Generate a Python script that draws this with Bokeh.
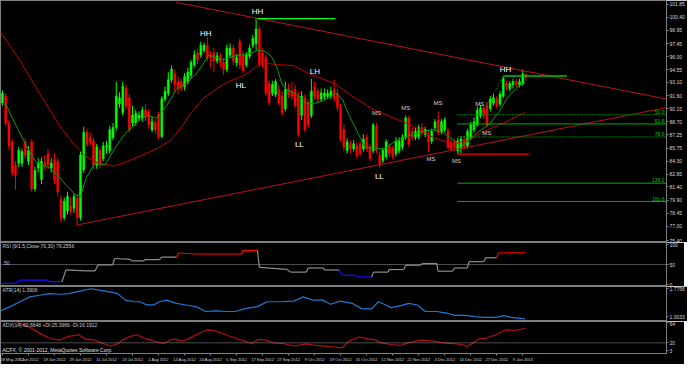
from bokeh.plotting import figure
from bokeh.models import ColumnDataSource, FixedTicker, Span, Label, Range1d, PrintfTickFormatter
from bokeh.layouts import column
from bokeh.embed import file_html
from bokeh.resources import INLINE
from bokeh.core.properties import value

FONT = "Liberation Sans"

# ---------------- data ----------------
bar_open = [
    90.82, 91.57, 88.57, 86.43, 83.86, 84.07, 84.07, 86.43, 84.29, 86.43,
    81.18, 83.54, 82.25, 84.07, 85.14, 83.54, 84.39, 84.29, 80.00, 77.97,
    78.72, 79.25, 79.04, 80.11, 77.97, 83.32, 87.50, 86.96, 86.54, 83.86,
    85.47, 84.61, 85.89, 85.47, 86.96, 88.04, 90.71, 89.75, 92.43, 91.36,
    88.57, 88.57, 89.11, 89.11, 89.96, 89.75, 87.82, 88.57, 89.43, 87.07,
    91.25, 91.89, 93.39, 94.03, 93.18, 93.18, 92.64, 93.18, 93.93, 95.10,
    96.39, 96.18, 96.71, 97.25, 96.18, 96.39, 95.53, 96.07, 95.32, 94.57,
    96.18, 96.93, 95.32, 97.67, 96.18, 95.10, 96.07, 97.25, 97.46, 99.07,
    96.39, 95.85, 92.96, 91.89, 91.78, 92.32, 91.57, 90.18, 92.32, 92.11,
    92.32, 91.57, 89.43, 91.36, 90.82, 89.43, 92.64, 92.11, 91.25, 91.57,
    91.57, 91.57, 92.32, 91.89, 90.29, 87.82, 85.47, 86.21, 85.68, 86.00,
    86.21, 85.68, 86.96, 85.89, 85.47, 88.14, 84.93, 84.39, 84.82, 85.89,
    85.68, 85.14, 85.47, 85.89, 86.96, 89.11, 87.61, 86.96, 87.07, 88.04,
    87.29, 87.29, 86.54, 88.04, 88.89, 87.61, 87.82, 87.61, 86.43, 86.43,
    85.47, 85.68, 86.75, 86.00, 86.96, 87.82, 88.36, 89.43, 90.18, 90.50,
    90.18, 90.82, 91.25, 90.71, 91.57, 92.96, 92.43, 92.86, 93.18, 92.86,
    92.96, 93.93]
bar_high = [
    92.21, 91.89, 88.89, 86.75, 84.29, 85.89, 85.68, 86.86, 86.00, 86.75,
    83.64, 84.61, 84.72, 84.93, 85.68, 84.61, 85.14, 84.61, 80.43, 80.22,
    80.86, 80.22, 80.65, 80.54, 85.36, 88.14, 87.93, 87.50, 86.86, 86.21,
    85.89, 86.43, 86.54, 88.25, 88.57, 93.18, 92.00, 93.18, 92.86, 91.78,
    90.50, 90.07, 89.86, 90.39, 90.71, 90.18, 89.21, 89.00, 89.86, 91.57,
    92.64, 94.25, 95.00, 94.57, 93.71, 93.50, 94.14, 94.78, 95.64, 96.71,
    96.93, 97.67, 97.57, 98.21, 96.61, 96.93, 96.50, 96.39, 95.85, 97.35,
    97.46, 97.35, 96.28, 98.00, 96.61, 96.50, 97.35, 98.43, 100.35, 99.50,
    96.93, 96.18, 93.29, 93.29, 93.50, 92.86, 92.11, 93.18, 92.96, 93.18,
    92.86, 92.00, 92.11, 91.78, 91.25, 93.50, 93.18, 92.43, 92.43, 92.43,
    92.32, 92.64, 93.39, 92.32, 90.71, 88.36, 86.86, 86.64, 86.64, 86.43,
    86.54, 87.29, 87.29, 86.21, 88.57, 88.57, 85.36, 85.79, 86.75, 86.21,
    86.00, 86.96, 86.96, 87.29, 89.43, 89.43, 88.04, 88.04, 88.36, 88.57,
    88.14, 87.71, 87.93, 89.00, 89.86, 89.00, 89.21, 88.04, 86.75, 86.75,
    86.86, 87.07, 87.07, 87.93, 88.68, 89.21, 90.39, 90.61, 90.50, 90.93,
    91.57, 91.78, 91.57, 92.11, 93.82, 93.29, 93.29, 93.50, 93.50, 93.50,
    94.57, 94.14]
bar_low = [
    90.50, 88.25, 85.57, 82.57, 81.07, 83.64, 83.64, 84.50, 83.86, 80.86,
    80.86, 83.00, 81.72, 83.22, 83.43, 83.00, 81.72, 80.32, 77.43, 77.65,
    78.29, 78.29, 78.50, 77.22, 77.65, 83.00, 85.89, 86.00, 83.43, 83.43,
    83.54, 84.29, 85.14, 85.14, 86.64, 87.71, 90.29, 89.43, 90.07, 87.50,
    88.14, 88.25, 88.79, 88.68, 88.79, 87.93, 87.50, 87.29, 86.75, 86.86,
    90.93, 91.57, 93.07, 92.00, 91.78, 92.11, 92.21, 92.86, 93.50, 94.78,
    95.21, 95.85, 96.39, 95.43, 94.78, 94.25, 95.21, 94.78, 93.93, 94.25,
    95.85, 95.00, 94.89, 94.57, 94.14, 94.78, 95.75, 96.93, 96.71, 94.78,
    94.78, 91.57, 90.50, 91.57, 91.46, 90.50, 89.43, 89.86, 91.36, 91.14,
    90.18, 86.96, 88.89, 87.50, 88.04, 89.11, 91.14, 90.82, 90.93, 91.14,
    91.25, 91.25, 90.93, 89.96, 86.43, 85.36, 85.14, 85.14, 85.36, 84.50,
    84.82, 85.36, 85.36, 84.29, 85.14, 85.14, 83.54, 84.07, 84.50, 84.72,
    84.50, 84.82, 85.14, 85.57, 86.64, 85.89, 86.64, 86.64, 86.75, 87.07,
    86.96, 85.36, 86.21, 87.71, 87.18, 87.29, 87.50, 85.57, 85.36, 85.47,
    85.14, 85.14, 85.57, 85.68, 86.64, 87.50, 88.14, 89.11, 89.00, 88.14,
    89.86, 90.50, 90.18, 90.39, 91.36, 92.21, 92.11, 92.43, 92.54, 92.54,
    92.75, 93.29]
bar_close = [
    91.89, 88.57, 86.00, 83.00, 82.79, 85.47, 85.36, 84.93, 85.47, 81.18,
    83.22, 84.07, 84.29, 83.75, 83.86, 84.07, 82.25, 80.86, 77.86, 79.79,
    80.32, 78.72, 80.32, 77.97, 84.93, 87.50, 86.21, 86.43, 83.86, 85.89,
    83.86, 86.00, 86.00, 87.82, 88.04, 91.57, 91.36, 92.64, 90.50, 87.82,
    89.43, 89.64, 89.43, 89.96, 89.21, 88.36, 88.68, 87.82, 87.07, 91.25,
    92.11, 93.39, 94.57, 92.96, 92.43, 92.43, 93.71, 94.25, 95.32, 96.18,
    95.64, 97.25, 97.25, 95.85, 95.85, 95.53, 96.07, 95.32, 94.57, 96.93,
    96.93, 95.53, 95.85, 95.10, 94.46, 96.18, 96.93, 98.00, 99.07, 95.10,
    95.10, 91.89, 90.82, 92.86, 93.18, 90.82, 89.75, 92.32, 91.78, 91.57,
    90.50, 87.29, 91.57, 87.82, 88.36, 92.11, 91.57, 91.25, 91.89, 91.89,
    91.89, 92.11, 91.36, 90.29, 86.75, 85.89, 86.43, 85.68, 86.21, 84.93,
    85.14, 86.75, 85.68, 84.61, 88.36, 85.47, 83.86, 85.47, 86.43, 85.14,
    84.82, 86.54, 86.54, 86.96, 89.11, 86.21, 86.96, 87.61, 88.04, 87.50,
    87.82, 86.43, 87.61, 88.68, 87.50, 88.68, 88.89, 85.89, 85.68, 85.89,
    86.54, 86.75, 85.89, 87.61, 88.36, 88.68, 89.96, 90.18, 89.43, 88.36,
    91.25, 91.36, 90.50, 91.78, 93.50, 92.64, 92.96, 93.18, 92.86, 93.18,
    94.03, 93.70]

# moving averages (bar index, price)
fast_ma_x = [0.9, 3.0, 7.5, 10.5, 14.4, 16.8, 19.5, 22.5, 24.0, 25.8, 28.5, 31.5, 34.5, 37.5,
             41.4, 44.4, 47.4, 50.5, 53.5, 56.5, 59.5, 61.6, 63.4, 67.6, 71.5, 76.6, 78.4, 80.5,
             82.6, 84.4, 85.9, 87.4, 90.4, 93.4, 95.5, 98.5, 102.4, 104.5, 106.6, 111.4, 114.4,
             117.4, 120.4, 123.4, 126.4, 129.4, 132.4, 135.4, 138.4, 141.1, 146.5, 149.5, 152.6,
             155.6, 158.6, 160.7]
fast_ma_y = [90.82, 89.11, 85.89, 84.07, 83.54, 82.79, 81.61, 80.54, 80.32, 82.47, 84.07, 83.86,
             85.68, 87.29, 88.68, 89.43, 89.11, 90.50, 92.32, 92.96, 94.03, 95.10, 96.18, 95.64,
             96.07, 96.39, 96.71, 96.61, 96.07, 94.78, 92.96, 92.32, 91.78, 90.82, 90.71, 91.04,
             91.89, 91.25, 89.43, 85.89, 85.68, 85.68, 86.43, 86.96, 87.29, 87.61, 87.82, 87.50,
             86.75, 85.89, 87.61, 88.36, 89.75, 91.57, 92.64, 93.07]
slow_ma_x = [-0.6, 5.4, 11.4, 17.4, 21.9, 25.5, 29.4, 34.5, 39.3, 47.4, 51.4, 55.6, 57.4, 61.6,
             65.5, 69.4, 74.5, 79.6, 84.4, 89.5, 94.6, 102.4, 107.5, 113.5, 120.4, 125.5, 132.4,
             138.4, 143.5, 147.4, 154.1, 160.7]
slow_ma_y = [98.75, 95.53, 91.89, 88.36, 86.21, 84.82, 84.07, 83.75, 84.39, 85.68, 86.54, 88.36,
             89.43, 91.25, 92.32, 93.18, 93.93, 95.32, 95.10, 95.00, 94.03, 92.96, 91.57, 90.18,
             89.11, 88.36, 86.96, 86.21, 86.64, 87.50, 88.57, 89.75]

# trend lines (bar index, price)
upper_trend = ([53.5, 204.2], [102.07, 91.25])
lower_trend = ([22.5, 204.2], [77.11, 90.29])
hh_level = ([78.4, 102.4], [100.25, 100.25])
top_level = ([154.1, 173.6], [93.82, 93.82])
low_level = ([139.9, 161.9], [85.07, 85.07])

# fibonacci tool
fib_start = 139.9
fib_low_pt = (140.2, 85.14)
fib_high_pt = (154.1, 93.82)
fib_ratios = [50.0, 61.8, 78.6, 138.2, 161.8]
fib_dash = ["dotted", "solid", "dotted", "solid", "solid"]

# swing labels
wave_text = ["HH", "HH", "HL", "LH", "LL", "LL", "HH"]
wave_x = [62.5, 78.4, 73.3, 96.1, 91.3, 115.9, 154.7]
wave_y = [98.53, 101.10, 92.75, 94.35, 86.21, 82.57, 94.57]
ms_x = [115.0, 124.0, 133.9, 131.8, 139.6, 146.8, 148.9]
ms_y = [89.64, 90.29, 90.82, 84.50, 84.29, 90.71, 87.39]

price_ticks = [101.85, 100.40, 98.95, 97.45, 96.00, 94.55, 93.10, 91.60, 90.15, 88.70,
               87.25, 85.75, 84.30, 82.85, 81.40, 79.90, 78.45, 77.00, 75.40]

# RSI (bar index, value)
rsi_x = [-0.6, 3.9, 5.4, 13.8, 14.4, 18.3, 19.5, 25.8, 28.5, 29.4, 33.9, 34.5, 39.3, 39.9, 43.5,
         43.8, 48.3, 48.9, 53.5, 54.1, 59.5, 73.6, 73.9, 78.4, 79.0, 87.4, 88.6, 93.4, 94.0, 98.5,
         99.1, 103.6, 104.5, 108.4, 109.0, 113.5, 114.1, 118.6, 118.9, 123.4, 124.0, 128.5,
         129.1, 133.6, 133.9, 138.4, 139.0, 142.9, 143.5, 148.0, 148.6, 151.9, 152.5, 160.9]
rsi_y = [3.1, 3.1, 11.2, 11.2, 7.1, 7.1, 36.4, 34.0, 34.0, 49.3, 49.3, 65.0, 62.6, 58.8, 58.8,
         61.9, 61.9, 68.3, 68.3, 78.6, 76.2, 76.2, 85.0, 85.0, 42.9, 38.1, 31.0, 31.0, 41.2, 41.2,
         36.4, 36.4, 23.1, 23.1, 19.0, 19.0, 31.0, 31.0, 37.4, 37.4, 48.3, 48.3, 52.4, 52.4, 33.3,
         33.3, 41.2, 41.2, 57.1, 57.1, 66.7, 66.7, 78.6, 79.3]

# ATR (bar index, value)
atr_x = [-0.6, 2.4, 5.4, 8.4, 11.4, 14.4, 17.4, 20.4, 23.4, 27.3, 30.3, 33.3, 35.4, 37.8, 40.5,
         42.3, 44.4, 46.5, 48.3, 50.5, 53.5, 56.5, 59.5, 62.5, 65.5, 69.4, 71.5, 75.4, 78.4,
         81.4, 85.6, 89.5, 92.5, 95.5, 98.5, 100.9, 103.9, 107.5, 110.5, 113.5, 115.6, 117.4,
         119.5, 122.5, 124.9, 127.6, 130.0, 133.6, 136.6, 139.0, 142.6, 145.6, 148.6, 151.7,
         154.1, 156.5, 160.7]
atr_y = [1.163, 1.278, 1.411, 1.544, 1.589, 1.634, 1.616, 1.634, 1.696, 1.768, 1.722, 1.677,
         1.634, 1.456, 1.411, 1.411, 1.323, 1.323, 1.411, 1.456, 1.368, 1.323, 1.278, 1.144,
         1.163, 1.144, 1.144, 1.235, 1.278, 1.411, 1.411, 1.429, 1.544, 1.456, 1.456, 1.342,
         1.429, 1.368, 1.216, 1.216, 1.411, 1.342, 1.251, 1.304, 1.368, 1.323, 1.144, 1.144,
         1.102, 1.038, 1.038, 0.995, 0.985, 0.985, 1.030, 0.985, 0.942]

# ADX (bar index, value)
adx_x = [4.5, 8.4, 11.4, 14.4, 17.4, 20.4, 23.4, 25.5, 28.5, 30.3, 33.3, 35.4, 37.5, 39.3, 41.4,
         43.5, 46.5, 49.5, 52.6, 55.6, 58.6, 61.6, 63.4, 65.5, 68.5, 71.5, 74.5, 76.6, 78.4,
         80.5, 83.5, 86.5, 89.5, 93.4, 96.4, 99.4, 103.6, 104.5, 106.6, 109.6, 112.6, 114.4,
         116.5, 119.5, 122.5, 124.6, 128.5, 132.4, 135.4, 138.4, 141.4, 142.9, 146.5, 148.6,
         151.7, 154.7, 157.7, 160.7]
adx_y = [64.0, 53.5, 41.0, 30.5, 25.7, 34.0, 37.4, 28.4, 25.7, 20.0, 13.1, 17.9, 28.4, 34.0, 37.4,
         30.5, 23.6, 18.5, 28.4, 23.6, 34.0, 44.5, 47.9, 45.8, 37.4, 30.5, 23.6, 18.5, 26.9,
         26.9, 20.0, 18.5, 13.1, 17.9, 14.3, 13.1, 9.5, 9.5, 23.6, 32.6, 28.4, 26.9, 20.0, 16.4,
         14.3, 20.0, 25.7, 23.6, 20.0, 18.5, 16.4, 11.6, 28.4, 29.8, 37.4, 47.9, 46.6, 51.4]

date_idx = list(range(0, 161, 8))
date_labels = ["28 May 2012", "7 Jun 2012", "19 Jun 2012", "29 Jun 2012", "11 Jul 2012",
               "23 Jul 2012", "2 Aug 2012", "14 Aug 2012", "24 Aug 2012", "5 Sep 2012",
               "17 Sep 2012", "27 Sep 2012", "9 Oct 2012", "19 Oct 2012", "31 Oct 2012",
               "12 Nov 2012", "22 Nov 2012", "4 Dec 2012", "14 Dec 2012", "27 Dec 2012",
               "9 Jan 2013"]

# ---------------- styling helpers ----------------
FW = 666
BORDER = "#7f7f7f"
AXTXT = "#d8d8d8"
xr = Range1d(-0.6, 204.2)


def make_fig(y0, y1, fh, bottom=False):
    f = figure(frame_width=FW, frame_height=fh, x_range=xr, y_range=Range1d(y0, y1),
               output_backend="svg", toolbar_location=None, y_axis_location="right",
               x_axis_location="below" if bottom else None,
               min_border_left=0, min_border_right=18, min_border_top=0,
               min_border_bottom=11 if bottom else 0,
               background_fill_color="black", border_fill_color="black",
               outline_line_color=BORDER, outline_line_width=1)
    f.grid.visible = False
    for ax in f.yaxis:
        ax.major_label_text_font_size = "5px"
        ax.major_label_text_font = FONT
        ax.major_label_text_color = AXTXT
        ax.major_label_standoff = 1
        ax.major_tick_out = 2
        ax.major_tick_in = 0
        ax.minor_tick_out = 0
        ax.minor_tick_in = 0
        ax.axis_line_color = BORDER
        ax.major_tick_line_color = BORDER
    return f


def header(f, x, y, text, color="#c8c8c8", size="5px"):
    f.add_layout(Label(x=x, y=y, text=text, text_color=color, text_font_size=size,
                       text_font=FONT, text_baseline="top", text_align="left"))


# ---------------- main price panel ----------------
pm = make_fig(75.18, 102.28, 242)
pm.yaxis[0].ticker = FixedTicker(ticks=price_ticks)
pm.yaxis[0].formatter = PrintfTickFormatter(format="%.2f")

idx = list(range(len(bar_close)))
col = ["#00ff00" if c >= o else "#ff0000" for o, c in zip(bar_open, bar_close)]
src = ColumnDataSource(dict(
    x=idx, o=bar_open, h=bar_high, l=bar_low, c=bar_close,
    top=[max(o, c) + 0.02 for o, c in zip(bar_open, bar_close)],
    bot=[min(o, c) - 0.02 for o, c in zip(bar_open, bar_close)],
    col=col))
pm.segment(x0="x", y0="h", x1="x", y1="l", color="col", line_width=1, source=src)
pm.vbar(x="x", top="top", bottom="bot", width=0.6, fill_color="col", line_color="col",
        line_width=0.5, source=src)

pm.line(slow_ma_x, slow_ma_y, line_color="#c00000", line_width=1)
pm.line(fast_ma_x, fast_ma_y, line_color="#00a000", line_width=1)

pm.line(*upper_trend, line_color="#b81418", line_width=1)
pm.line(*lower_trend, line_color="#b81418", line_width=1)
pm.line(*hh_level, line_color="#00ff00", line_width=1.2)
pm.line(*top_level, line_color="#00c000", line_width=1.5)
pm.line(*low_level, line_color="#ff0000", line_width=1.2)

fib_range = fib_high_pt[1] - fib_low_pt[1]
pm.line([fib_low_pt[0], fib_high_pt[0]], [fib_low_pt[1], fib_high_pt[1]],
        line_color="#00c000", line_width=1, line_dash="1 2")
for r, d in zip(fib_ratios, fib_dash):
    lv = fib_high_pt[1] - fib_range * r / 100.0
    pm.line([fib_start, 204.2], [lv, lv], line_color="#00b000" if d == "solid" else "#009000",
            line_width=1, line_dash="solid" if d == "solid" else "2 1")
    pm.text(x=[203.6], y=[lv + 0.08], text=["%.1f" % r], text_color="#00c000",
            text_font=value(FONT), text_font_size="5px", text_align="right",
            text_baseline="bottom")

pm.text(x=wave_x, y=wave_y, text=wave_text, text_color="#ffffff", text_font=value(FONT),
        text_font_size="8px", text_align="center", text_baseline="middle")
pm.text(x=ms_x, y=ms_y, text=["MS"] * len(ms_x), text_color="#d0d0d0", text_font=value(FONT),
        text_font_size="6px", text_align="center", text_baseline="middle")

pm.add_layout(Label(x=204.6, y=bar_close[-1], text="%.2f" % bar_close[-1], text_color="#000000",
                    text_font_size="5px", text_font=FONT, text_baseline="middle",
                    text_align="left", background_fill_color="#ffffff",
                    padding=1))

# ---------------- RSI ----------------
pr = make_fig(-4.8, 104.8, 44)
pr.yaxis[0].ticker = FixedTicker(ticks=[0, 50, 100])
pr.add_layout(Span(location=50, dimension="width", line_color="#9a9a9a", line_dash="1 1",
                   line_width=1))
xs, ys, cs = [], [], []
for i in range(1, len(rsi_x)):
    v = rsi_y[i]
    xs.append([rsi_x[i - 1], rsi_x[i]])
    ys.append([rsi_y[i - 1], rsi_y[i]])
    cs.append("#1010ff" if v < 30 else ("#ff0000" if v > 70 else "#8c8c8c"))
pr.multi_line(xs=xs, ys=ys, line_color=cs, line_width=1.2)
header(pr, 0.0, 103.5, "RSI (9/1.5,Close,70,30) 79.2556")
pr.add_layout(Label(x=0.5, y=50, text="50", text_color="#c8c8c8", text_font_size="5px",
                    text_font=FONT, text_baseline="bottom", text_align="left"))

# ---------------- ATR ----------------
pa = make_fig(0.870, 1.829, 35)
pa.yaxis[0].ticker = FixedTicker(ticks=[1.0033, 1.7756])
pa.yaxis[0].formatter = PrintfTickFormatter(format="%.4f")
pa.line(atr_x, atr_y, line_color="#1e78d0", line_width=1.2)
header(pa, 0.0, 1.815, "ATR(14) 1.3906")

# ---------------- ADX ----------------
pd_ = make_fig(-3.05, 66.1, 32, bottom=True)
pd_.yaxis[0].ticker = FixedTicker(ticks=[3, 20, 64])
pd_.add_layout(Span(location=20, dimension="width", line_color="#9a9a9a", line_dash="1 1",
                    line_width=1))
pd_.line(adx_x, adx_y, line_color="#b01010", line_width=1.2)
header(pd_, 0.0, 65.0, "ADX(14) 60.6648 +DI:25.3966 -DI:16.1912")
pd_.add_layout(Label(x=0.0, y=-2.5, text="ACFX, \u00a9 2001-2012, MetaQuotes Software Corp.",
                     text_color="#e0e0e0", text_font_size="5px", text_font=FONT,
                     text_baseline="bottom", text_align="left"))
xa = pd_.xaxis[0]
xa.ticker = FixedTicker(ticks=date_idx)
xa.major_label_overrides = {i: t for i, t in zip(date_idx, date_labels)}
xa.major_label_text_font_size = "4px"
xa.major_label_text_font = FONT
xa.major_label_text_color = AXTXT
xa.major_label_text_align = "left"
xa.major_label_standoff = 1
xa.major_tick_out = 2
xa.major_tick_in = 0
xa.minor_tick_out = 0
xa.minor_tick_in = 0
xa.axis_line_color = BORDER
xa.major_tick_line_color = BORDER

layout = column(pm, pr, pa, pd_, spacing=0)
html = file_html(layout, INLINE, title="chart")
html = html.replace("<body", '<body style="background-color:#000000"', 1)
open("out.html", "w").write(html)
